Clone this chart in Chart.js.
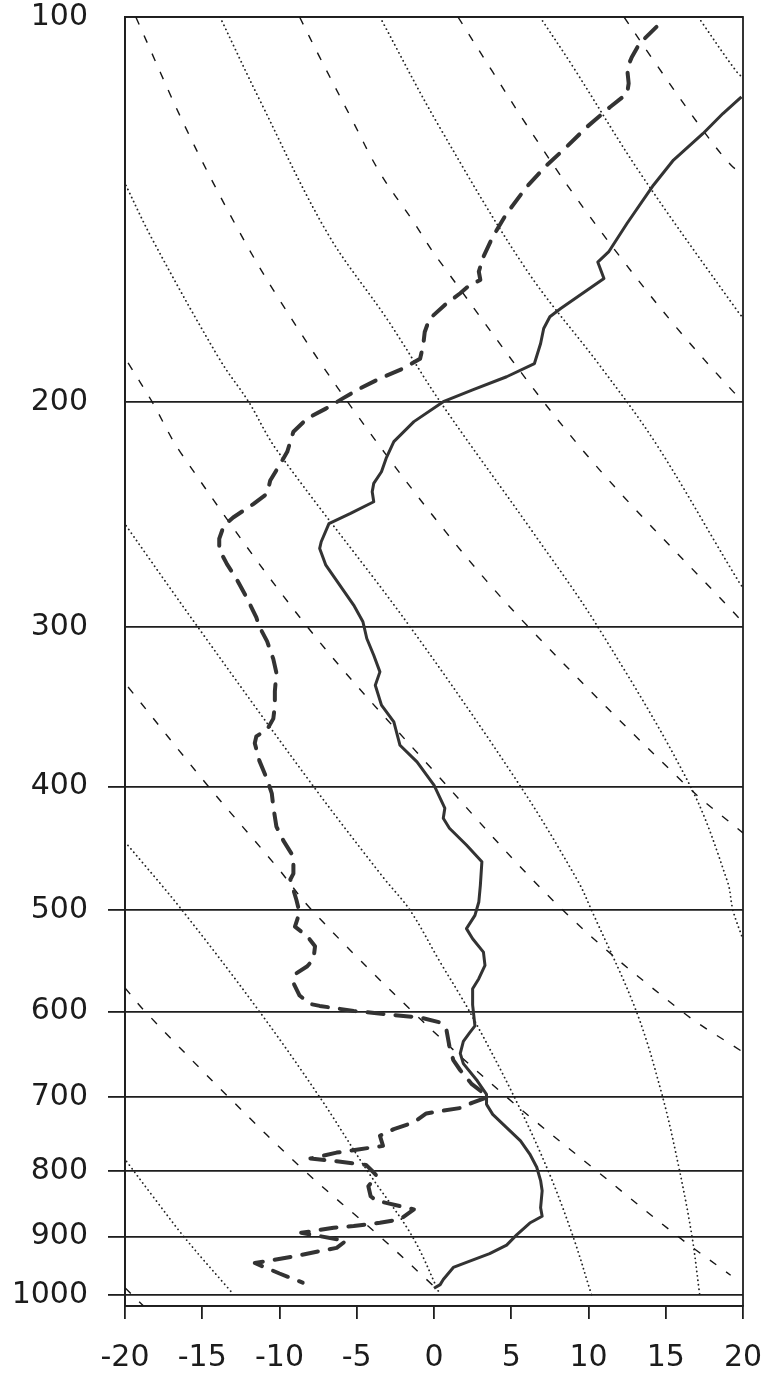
<!DOCTYPE html>
<html lang="en">
<head>
<meta charset="UTF-8">
<title>Sounding</title>
<script src="https://cdn.jsdelivr.net/npm/chart.js"></script>
<style>
  html, body { margin: 0; padding: 0; background: #fff; }
  #wrap { width: 769px; height: 1380px; position: relative; }
</style>
</head>
<body>
<div id="wrap"><canvas id="sounding"></canvas></div>
<script>
// axis ticks: pressure (hPa) down the side, temperature (°C) along the bottom
const pressureTicks = [100, 200, 300, 400, 500, 600, 700, 800, 900, 1000];
const tempTicks = [-20, -15, -10, -5, 0, 5, 10, 15, 20];

// temperature profile (solid)
const tempP = [115.5, 119, 123.4, 129.4, 135.4, 145, 152.7, 155.5, 160.2, 169.1, 171.6, 175.3, 180.1, 186.7, 191.2, 195.8,
  200, 207.3, 214.9, 221.5, 226.9, 231.7, 235.2, 239.5, 244.6, 249.1, 257.4, 260.5, 268.5, 278.3, 288.5, 297.3,
  306.4, 315.8, 325.4, 333.3, 345.5, 356.1, 371.4, 382.7, 399, 416, 423.6, 431.3, 444.5, 458.1, 478, 492.6,
  504.6, 516.8, 526.3, 539.1, 552.2, 565.6, 575.9, 592.9, 615.8, 623.5, 633.2, 647, 659.1, 679.8, 696.6, 709.3,
  722.2, 739.6, 757.5, 775.7, 794.4, 813.7, 828.8, 854.5, 867.7, 878.4, 897.4, 914.1, 928.3, 942.8, 951.6, 972.5, 981.5, 988];
const tempT = [19.9, 18.7, 17.4, 15.5, 14.2, 12.5, 11.3, 10.6, 11.0, 8.2, 7.5, 7.1, 6.9, 6.5, 4.7, 2.5,
  0.6, -1.3, -2.6, -3.1, -3.4, -3.9, -4.0, -3.9, -5.4, -6.8, -7.3, -7.4, -7.0, -6.1, -5.2, -4.6,
  -4.35, -3.9, -3.5, -3.8, -3.4, -2.6, -2.2, -1.1, 0.0, 0.7, 0.6, 1.0, 2.1, 3.1, 3.0, 2.9,
  2.65, 2.1, 2.5, 3.2, 3.3, 2.9, 2.5, 2.5, 2.65, 2.3, 1.9, 1.7, 1.9, 2.8, 3.4, 3.4,
  3.8, 4.7, 5.6, 6.2, 6.65, 6.9, 7.0, 6.9, 7.0, 6.2, 5.35, 4.7, 3.6, 2.1, 1.25, 0.6, 0.4, 0.0];

// dew point profile (long dashes)
const dewP = [101.8, 104.9, 107.5, 109.7, 112.7, 114.8, 117.6, 121.9, 126.3, 130.6, 135.8, 142.5, 148.6, 154, 158.2, 160.6,
  162.1, 164.5, 168, 172.3, 176.4, 180.7, 185.1, 188.4, 191.8, 195.3, 198.8, 202.5, 206.1, 211.1, 218.9, 224.2,
  230.5, 236, 240.5, 246.4, 250, 256, 261, 268, 275, 285, 295, 300, 308, 318,
  326, 337, 346, 354, 361, 365.5, 370, 382, 395, 405, 415, 430, 441, 454, 468, 473,
  491, 502, 515, 524, 533.5, 546, 553, 560, 570, 583, 592, 594, 599.4, 603, 606.5, 612,
  619.6, 639, 655, 667, 684, 692, 700, 707, 714, 718, 721, 732.6, 741.6, 750.6, 764.4, 769,
  773.7, 782, 786, 791, 802, 807, 822, 837, 844, 847, 857, 872.5, 878, 883, 886, 894,
  907, 918.6, 924, 933, 944, 962, 978];
const dewT = [14.4, 13.3, 12.8, 12.5, 12.6, 12.5, 11.4, 9.9, 8.6, 7.3, 6.0, 4.7, 3.8, 3.2, 2.9, 3.0,
  2.3, 1.7, 0.7, -0.3, -0.6, -0.7, -0.9, -2.0, -3.5, -4.8, -5.9, -7.0, -8.2, -9.1, -9.5, -10.0,
  -10.6, -10.8, -11.7, -13.0, -13.6, -13.9, -13.9, -13.4, -12.8, -12.1, -11.5, -11.3, -10.8, -10.4,
  -10.2, -10.3, -10.3, -10.4, -10.8, -11.5, -11.6, -11.3, -10.8, -10.5, -10.4, -10.2, -9.75, -9.1, -9.1, -9.3,
  -8.9, -8.7, -9.0, -8.2, -7.7, -7.8, -8.2, -8.9, -9.1, -8.7, -8.0, -7.4, -5.2, -3.1, -0.9, 0.4,
  0.8, 1.0, 1.25, 1.7, 2.45, 3.0, 3.5, 2.5, 1.7, 0.4, -0.5, -1.3, -2.6, -3.5, -3.3, -4.8,
  -6.3, -8.0, -6.3, -4.4, -3.9, -3.7, -4.25, -4.1, -3.7, -3.1, -1.3, -2.2, -3.5, -5.2, -6.5, -8.6,
  -5.7, -6.3, -7.4, -9.1, -11.6, -10.0, -8.5];

// background guides as [T, p] pairs: dashed family
const dashedGuides = [
  [[12.3, 100], [14.2, 108.1], [17.4, 122.6], [19.2, 130.5], [20.1, 133]],
  [[1.55, 100], [3.8, 110.4], [6.0, 121.5], [9.0, 137.4], [12.2, 154.9], [15.7, 175], [19.35, 196.3], [20.1, 200]],
  [[-8.7, 100], [-7.4, 107.5], [-5.4, 119.7], [-3.5, 132.4], [-1.4, 144.2], [0.3, 154.9], [9.45, 217], [19.7, 295], [20.3, 300]],
  [[-19.3, 100], [-16.1, 121.9], [-12.9, 145], [-10.2, 165], [-5.6, 200], [0.8, 253.2], [6.1, 300], [16.4, 400], [20, 435]],
  [[-19.8, 186.5], [-18.25, 200], [-16.4, 219.2], [-8.2, 300], [-0.06, 388.5], [8.35, 500], [16.05, 600], [20, 645.6]],
  [[-19.8, 334.4], [-14.6, 400], [-10.2, 461.9], [-7.9, 500], [-1.4, 600], [4.7, 700], [10.55, 800], [15.8, 900], [19.2, 965]],
  [[-20, 575], [-18.7, 600], [-13.3, 700], [-8.35, 800], [-3.5, 900], [-0.1, 982]],
  [[-20, 987], [-18.8, 1020]]
];

// dotted family
const dottedGuides = [
  [[17.1, 100], [19.6, 110.4], [20.2, 112]],
  [[6.86, 100], [9.0, 109.4], [13.33, 132.4], [19.68, 170.1], [20.2, 173]],
  [[-3.5, 100], [0.2, 121], [6.0, 157.8], [10.75, 187.5], [14.4, 216], [19.8, 277.5], [20.2, 281]],
  [[-13.85, 100], [-11.3, 116], [-6.9, 147.6], [-3.0, 172.6], [0.4, 200], [6.4, 253], [10.6, 300], [16.6, 400], [19.0, 475], [19.35, 500], [19.95, 525]],
  [[-20.2, 133.4], [-18.2, 149.5], [-13.85, 185.5], [-12.0, 200], [-10.2, 218], [-1.55, 300], [5.6, 400], [9.3, 474], [10.2, 500], [13.1, 600], [14.8, 700], [15.9, 800], [16.7, 900], [17.2, 1000]],
  [[-20.1, 248.4], [-15.3, 300], [-7.8, 400], [-3.3, 471], [-1.55, 500], [0.4, 549], [2.3, 600], [5.2, 700], [7.4, 800], [9.0, 900], [10.2, 1000]],
  [[-20, 442], [-16.3, 500], [-11.3, 600], [-7.4, 700], [-4.3, 800], [-1.4, 900], [0.4, 1000]],
  [[-19.9, 786], [-18.2, 837], [-16.1, 903], [-13.1, 995]]
];

const ink = '#1e1e1e';
Chart.defaults.font.family = '"DejaVu Sans", sans-serif';
Chart.defaults.font.size = 30;
Chart.defaults.color = '#1c1c1c';

const pairs = (ts, ps) => ts.map((t, i) => ({ x: t, y: ps[i] }));
const guidePts = g => g.map(([t, p]) => ({ x: t, y: p }));

const datasets = [
  {
    label: 'T', data: pairs(tempT, tempP), showLine: true, pointRadius: 0,
    borderColor: '#333', borderWidth: 3, tension: 0, borderJoinStyle: 'round', order: 0
  },
  {
    label: 'Td', data: pairs(dewT, dewP), showLine: true, pointRadius: 0,
    borderColor: '#333', borderWidth: 4, borderDash: [16, 12], borderCapStyle: 'round',
    borderJoinStyle: 'round', tension: 0, order: 0
  }
];
dashedGuides.forEach(g => datasets.push({
  data: guidePts(g), showLine: true, pointRadius: 0, borderColor: '#161616',
  borderWidth: 1.4, borderDash: [8, 12], tension: 0.35, order: 2
}));
dottedGuides.forEach(g => datasets.push({
  data: guidePts(g), showLine: true, pointRadius: 0, borderColor: '#222',
  borderWidth: 1.8, borderDash: [0.1, 4.4], borderCapStyle: 'round', tension: 0.35, order: 2
}));

// outline around the plotting area
const frame = {
  id: 'frame',
  beforeDatasetsDraw(chart) {
    const { ctx, chartArea: a } = chart;
    ctx.save();
    ctx.strokeStyle = ink;
    ctx.lineWidth = 1.8;
    ctx.strokeRect(a.left, a.top, a.right - a.left, a.bottom - a.top);
    ctx.restore();
  }
};

new Chart(document.getElementById('sounding'), {
  type: 'scatter',
  data: { datasets },
  plugins: [frame],
  options: {
    responsive: true,
    maintainAspectRatio: false,
    animation: false,
    devicePixelRatio: 1,
    layout: { padding: { top: 17, right: 26, left: 0, bottom: 0 } },
    plugins: { legend: { display: false }, tooltip: { enabled: false } },
    scales: {
      x: {
        type: 'linear', min: -20, max: 20,
        afterBuildTicks: s => { s.ticks = tempTicks.map(v => ({ value: v })); },
        afterFit: s => { s.height = 74; s.paddingLeft = 0; s.paddingRight = 0; },
        grid: { drawOnChartArea: false, drawTicks: true, tickLength: 13, color: ink, lineWidth: 1.8 },
        border: { display: true, color: ink, width: 1.8 },
        ticks: { padding: 21, autoSkip: false, maxRotation: 0, callback: v => String(v) }
      },
      y: {
        type: 'logarithmic', reverse: true, min: 100, max: 1020,
        afterBuildTicks: s => { s.ticks = pressureTicks.map(v => ({ value: v })); },
        afterFit: s => { s.width = 125; s.paddingTop = 0; s.paddingBottom = 0; },
        grid: {
          color: ink, lineWidth: 1.8, tickLength: 17,
          tickColor: c => (c.tick && c.tick.value >= 400) ? ink : 'rgba(0,0,0,0)'
        },
        border: { display: true, color: ink, width: 1.8 },
        ticks: { padding: 20, autoSkip: false, callback: v => String(v) }
      }
    }
  }
});
</script>
</body>
</html>
